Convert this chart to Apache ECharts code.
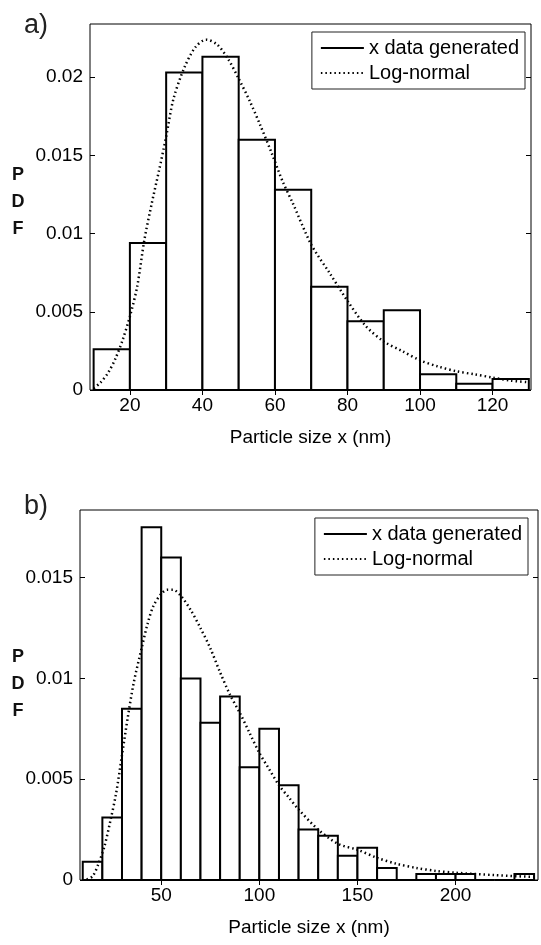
<!DOCTYPE html>
<html>
<head>
<meta charset="utf-8">
<script src="https://cdn.jsdelivr.net/npm/echarts@6/dist/echarts.min.js"></script>
<style>
html,body{margin:0;padding:0;background:#fff;}
#chart{width:541px;height:945px;}
</style>
</head>
<body>
<div id="chart"></div>
<script>
// ---- Panel a) ----
const binStartA = [10, 20, 30, 40, 50, 60, 70, 80, 90, 100, 110, 120];
const binWidthA = 10;
const histA = [0.0026, 0.0094, 0.0203, 0.0213, 0.0160, 0.0128, 0.0066, 0.0044, 0.0051, 0.0010, 0.0004, 0.0007];
const curveXA = [10, 12, 14, 16, 18, 20, 22, 24, 26, 28, 30, 32, 35, 38, 41, 44, 47, 50, 53, 56, 59, 62, 65, 70, 75, 80, 85, 90, 95, 100, 105, 110, 115, 120, 125, 130];
const curveYA = [0.0001, 0.0005, 0.0011, 0.0020, 0.0032, 0.0047, 0.0066, 0.0096, 0.0119, 0.0140, 0.0162, 0.0186, 0.0206, 0.0219, 0.0224, 0.0221, 0.0212, 0.0199, 0.0185, 0.0169, 0.0152, 0.0134, 0.0119, 0.0093, 0.0075, 0.0057, 0.0041, 0.0031, 0.0025, 0.0019, 0.0015, 0.0012, 0.0010, 0.0008, 0.0006, 0.0005];
const xTicksA = [20, 40, 60, 80, 100, 120];
const yTicksA = [0, 0.005, 0.01, 0.015, 0.02];

// ---- Panel b) ----
const binStartB = [10, 20, 30, 40, 50, 60, 70, 80, 90, 100, 110, 120, 130, 140, 150, 160, 170, 180, 190, 200, 210, 220, 230];
const binWidthB = 10;
const histB = [0.0009, 0.0031, 0.0085, 0.0175, 0.0160, 0.0100, 0.0078, 0.0091, 0.0056, 0.0075, 0.0047, 0.0025, 0.0022, 0.0012, 0.0016, 0.0006, 0.0000, 0.0003, 0.0003, 0.0003, 0.0000, 0.0000, 0.0003];
const curveXB = [12, 15, 18, 21, 24, 27, 30, 33, 36, 40, 43, 46, 50, 53, 56, 60, 65, 70, 75, 80, 85, 90, 95, 100, 105, 110, 115, 120, 130, 140, 150, 160, 170, 180, 190, 200, 220, 240];
const curveYB = [0.00003, 0.00018, 0.0008, 0.00165, 0.0029, 0.0043, 0.0062, 0.0081, 0.0098, 0.0115, 0.0127, 0.0136, 0.0142, 0.0144, 0.0144, 0.0141, 0.0134, 0.0125, 0.0115, 0.0103, 0.0092, 0.0083, 0.0073, 0.0063, 0.0055, 0.0047, 0.0041, 0.0035, 0.0025, 0.0018, 0.0015, 0.0011, 0.0008, 0.0006, 0.00045, 0.00036, 0.00024, 0.00015];
const xTicksB = [50, 100, 150, 200];
const yTicksB = [0, 0.005, 0.01, 0.015];

const seriesNames = ['x data generated', 'Log-normal'];
const xLabel = 'Particle size x (nm)';

const FONT = "'Liberation Sans', Arial, Helvetica, sans-serif";

function histData(starts, w, vals) {
  return starts.map((s, i) => [s, s + w, vals[i]]);
}
function curveData(xs, ys) {
  return xs.map((x, i) => [x, ys[i]]);
}
function renderBar(params, api) {
  const x0 = api.value(0), x1 = api.value(1), h = api.value(2);
  const p0 = api.coord([x0, h]);
  const p1 = api.coord([x1, 0]);
  return {
    type: 'rect',
    shape: { x: p0[0], y: p0[1], width: p1[0] - p0[0], height: p1[1] - p0[1] },
    style: { fill: '#fff', stroke: '#000', lineWidth: 2 }
  };
}

function xAxisPair(grid, min, max, ticks) {
  return [
    {
      type: 'value', gridIndex: grid, min: min, max: max, position: 'bottom',
      axisLine: { show: false }, splitLine: { show: false },
      axisTick: { show: true, inside: true, length: 5, lineStyle: { color: '#000' }, customValues: ticks },
      axisLabel: { show: true, customValues: ticks, color: '#000', fontSize: 19, fontFamily: FONT, margin: 6 },
      name: xLabel, nameLocation: 'middle', nameGap: 38,
      nameTextStyle: { color: '#000', fontSize: 19, fontFamily: FONT }
    },
    {
      type: 'value', gridIndex: grid, min: min, max: max, position: 'top',
      axisLine: { show: false }, splitLine: { show: false },
      axisTick: { show: true, inside: true, length: 5, lineStyle: { color: '#000' }, customValues: ticks },
      axisLabel: { show: false }
    }
  ];
}
function yAxisPair(grid, max, ticks) {
  return [
    {
      type: 'value', gridIndex: grid, min: 0, max: max, position: 'left',
      axisLine: { show: false }, splitLine: { show: false },
      axisTick: { show: true, inside: true, length: 5, lineStyle: { color: '#000' }, customValues: ticks },
      axisLabel: { show: true, customValues: ticks, color: '#000', fontSize: 19, fontFamily: FONT, margin: 7 }
    },
    {
      type: 'value', gridIndex: grid, min: 0, max: max, position: 'right',
      axisLine: { show: false }, splitLine: { show: false },
      axisTick: { show: true, inside: true, length: 5, lineStyle: { color: '#000' }, customValues: ticks },
      axisLabel: { show: false }
    }
  ];
}

function legendAt(right, top) {
  return {
    data: seriesNames, orient: 'vertical', right: right, top: top,
    itemWidth: 43, itemHeight: 12, itemGap: 3,
    padding: [5, 6, 5, 8],
    borderColor: '#222', borderWidth: 1, backgroundColor: '#fff',
    selectedMode: false,
    itemStyle: { opacity: 0 },
    textStyle: { color: '#000', fontSize: 20, fontFamily: FONT, lineHeight: 22 }
  };
}

const solidStyle = { color: '#000', width: 2, type: 'solid' };
const dotStyle = { color: '#000', width: 2.5, type: [1.5, 3] };

const chart = echarts.init(document.getElementById('chart'), null, { renderer: 'canvas' });
chart.setOption({
  animation: false,
  backgroundColor: '#fff',
  grid: [
    { left: 90, right: 10, top: 24, height: 366, show: true, borderColor: '#000', borderWidth: 1, backgroundColor: 'transparent' },
    { left: 80, right: 3, top: 510, height: 370, show: true, borderColor: '#000', borderWidth: 1, backgroundColor: 'transparent' }
  ],
  xAxis: [].concat(xAxisPair(0, 9, 130.6, xTicksA), xAxisPair(1, 8.6, 242, xTicksB)),
  yAxis: [].concat(yAxisPair(0, 0.0234, yTicksA), yAxisPair(1, 0.01836, yTicksB)),
  legend: [legendAt(16, 32), legendAt(13, 518)],
  graphic: [
    { type: 'text', left: 24, top: 12, style: { text: 'a)', font: "27px " + FONT, fill: '#222' } },
    { type: 'text', left: 24, top: 493, style: { text: 'b)', font: "27px " + FONT, fill: '#222' } },
    { type: 'text', x: 18, y: 202, style: { text: 'P\nD\nF', font: "bold 18px " + FONT, fill: '#111', align: 'center', verticalAlign: 'middle', lineHeight: 27 } },
    { type: 'text', x: 18, y: 684, style: { text: 'P\nD\nF', font: "bold 18px " + FONT, fill: '#111', align: 'center', verticalAlign: 'middle', lineHeight: 27 } }
  ],
  series: [
    { type: 'custom', name: 'hist a', xAxisIndex: 0, yAxisIndex: 0, renderItem: renderBar,
      encode: { x: [0, 1], y: 2 }, data: histData(binStartA, binWidthA, histA), z: 2 },
    { type: 'line', name: seriesNames[0], xAxisIndex: 0, yAxisIndex: 0, data: [], symbol: 'none', lineStyle: solidStyle, itemStyle: { color: '#000' } },
    { type: 'line', name: seriesNames[1], xAxisIndex: 0, yAxisIndex: 0, data: curveData(curveXA, curveYA),
      symbol: 'none', smooth: 0.3, lineStyle: dotStyle, itemStyle: { color: '#000' }, z: 3 },

    { type: 'custom', name: 'hist b', xAxisIndex: 2, yAxisIndex: 2, renderItem: renderBar,
      encode: { x: [0, 1], y: 2 }, data: histData(binStartB, binWidthB, histB), z: 2 },
    { type: 'line', name: seriesNames[0], xAxisIndex: 2, yAxisIndex: 2, data: [], symbol: 'none', lineStyle: solidStyle, itemStyle: { color: '#000' } },
    { type: 'line', name: seriesNames[1], xAxisIndex: 2, yAxisIndex: 2, data: curveData(curveXB, curveYB),
      symbol: 'none', smooth: 0.3, lineStyle: dotStyle, itemStyle: { color: '#000' }, z: 3 }
  ]
});
</script>
</body>
</html>
